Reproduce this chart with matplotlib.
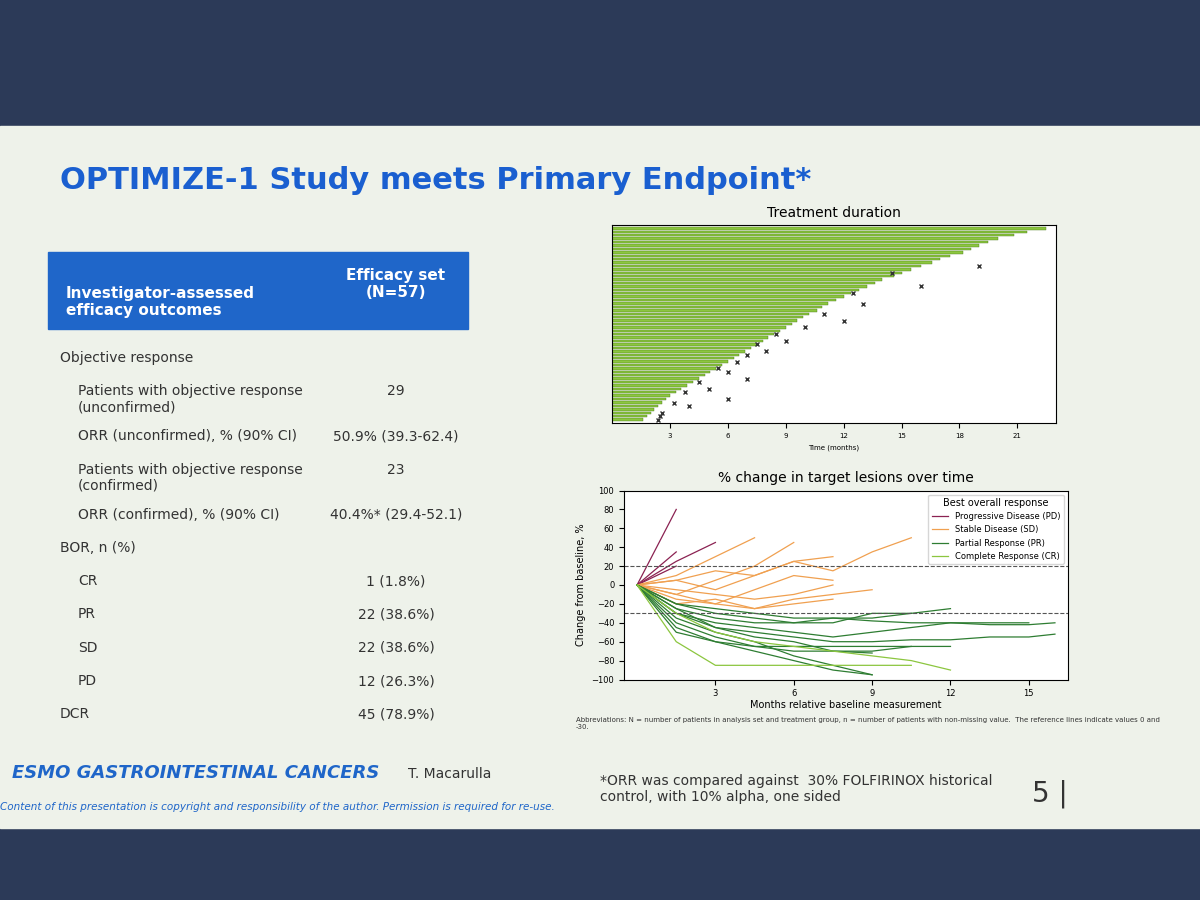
import numpy as np
import matplotlib.pyplot as plt
from matplotlib.patches import Rectangle

# ---- table data
row_labels = ["Objective response", "Patients with objective response\n(unconfirmed)",
              "ORR (unconfirmed), % (90% CI)", "Patients with objective response\n(confirmed)",
              "ORR (confirmed), % (90% CI)", "BOR, n (%)", "CR", "PR", "SD", "PD", "DCR"]
row_values = ["", "29", "50.9% (39.3-62.4)", "23", "40.4%* (29.4-52.1)", "",
              "1 (1.8%)", "22 (38.6%)", "22 (38.6%)", "12 (26.3%)", "45 (78.9%)"]
row_indent = [0, 1, 1, 1, 1, 0, 1, 1, 1, 1, 0]

# ---- swimmer data (months on treatment, per patient)
durations = [22.5, 21.5, 20.8, 20.0, 19.5, 19.0, 18.6, 18.2, 17.5, 17.0, 16.6, 16.0,
             15.5, 15.0, 14.6, 14.0, 13.6, 13.2, 12.8, 12.4, 12.0, 11.6, 11.2, 10.9,
             10.6, 10.2, 9.9, 9.6, 9.3, 9.0, 8.7, 8.4, 8.1, 7.8, 7.5, 7.2, 6.9, 6.6,
             6.3, 6.0, 5.7, 5.4, 5.1, 4.8, 4.5, 4.2, 3.9, 3.6, 3.3, 3.0, 2.8, 2.6,
             2.4, 2.2, 2.0, 1.8, 1.6]
death_times = [None, None, None, None, None, None, None, None, None, None, None, 19.0,
               None, 14.5, None, None, None, 16.0, None, 12.5, None, None, 13.0, None,
               None, 11.0, None, 12.0, None, 10.0, None, 8.5, None, 9.0, 7.5, None, 8.0,
               7.0, None, 6.5, None, 5.5, 6.0, None, 7.0, 4.5, None, 5.0, 3.8, None, 6.0,
               3.2, 4.0, None, 2.6, 2.5, 2.4]

# ---- spider plot data (months, % change)
months = [0, 1.5, 3, 4.5, 6, 7.5, 9, 10.5, 12, 13.5, 15, 16]
spider_pd = [[0, 80], [0, 35], [0, 25, 45], [0, 20]]
spider_sd = [[0, 10, 30, 50], [0, -10, 5, 20, 45], [0, 5, -5, 10, 25, 15, 35, 50],
             [0, -15, -20, -5, 10, 5], [0, -5, -10, -15, -10, 0],
             [0, -10, -20, -25, -15, -10, -5], [0, 5, 15, 10, 25, 30],
             [0, -20, -15, -25, -20, -15]]
spider_pr = [[0, -30, -45, -50, -55, -60, -60, -58, -58, -55, -55, -52],
             [0, -35, -50, -60, -75, -85, -95], [0, -25, -35, -40, -40, -35, -35, -30],
             [0, -40, -55, -65, -65, -65, -65, -65], [0, -30, -40, -45, -50, -55, -50, -45, -40, -40, -40],
             [0, -20, -30, -35, -40, -40, -30, -30, -25], [0, -25, -45, -55, -60, -70, -72],
             [0, -45, -60, -70, -80, -90, -95], [0, -20, -25, -30, -35, -35, -38, -40, -40, -42, -42, -40],
             [0, -50, -60, -65, -70, -70, -70, -65, -65]]
spider_cr = [[0, -60, -85, -85, -85, -85, -85, -85],
             [0, -30, -50, -60, -65, -70, -75, -80, -90]]

fig = plt.figure(figsize=(12, 9), dpi=100)
fig.patch.set_facecolor("#2c3a58")
bg = fig.add_axes([0, 0, 1, 1]); bg.set_axis_off()
bg.set_xlim(0, 1); bg.set_ylim(0, 1)
bg.add_patch(Rectangle((0, 0.08), 1, 0.78, color="#eef2ea"))

fig.text(0.05, 0.79, "OPTIMIZE-1 Study meets Primary Endpoint*", fontsize=22,
         fontweight="bold", color="#1a5fd0")

# table
bg.add_patch(Rectangle((0.04, 0.635), 0.35, 0.085, color="#1f66c9"))
fig.text(0.055, 0.65, "Investigator-assessed\nefficacy outcomes", color="white",
         fontsize=11, fontweight="bold")
fig.text(0.33, 0.67, "Efficacy set\n(N=57)", color="white", fontsize=11,
         fontweight="bold", ha="center")
y = 0.61
for lab, val, ind in zip(row_labels, row_values, row_indent):
    fig.text(0.05 + 0.015 * ind, y, lab, fontsize=10, va="top", color="#333333")
    if val:
        fig.text(0.33, y, val, fontsize=10, va="top", ha="center", color="#333333")
    y -= 0.05 if "\n" in lab else 0.037

# swimmer plot
ax1 = fig.add_axes([0.51, 0.53, 0.37, 0.22])
n = len(durations)
yy = np.arange(n)[::-1]
ax1.barh(yy, durations, height=0.7, color="#8cc63f", edgecolor="#4a7a1a", linewidth=0.3)
for yi, d in zip(yy, death_times):
    if d is not None:
        ax1.plot(d, yi, "x", color="#333333", ms=3)
ax1.set_xticks([3, 6, 9, 12, 15, 18, 21])
ax1.set_yticks([])
ax1.tick_params(labelsize=5)
ax1.set_xlabel("Time (months)", fontsize=5)
ax1.set_title("Treatment duration", fontsize=10)
ax1.set_xlim(0, 23)
ax1.set_ylim(-1, n)

# spider plot
ax2 = fig.add_axes([0.52, 0.245, 0.37, 0.21])
groups = [(spider_pd, "#8b2252", "Progressive Disease (PD)"),
          (spider_sd, "#f0a050", "Stable Disease (SD)"),
          (spider_pr, "#2e7d32", "Partial Response (PR)"),
          (spider_cr, "#8cc63f", "Complete Response (CR)")]
for lines, col, lab in groups:
    for i, vals in enumerate(lines):
        ax2.plot(months[:len(vals)], vals, color=col, lw=0.9,
                 label=lab if i == 0 else None)
ax2.axhline(20, ls="--", color="#555555", lw=0.8)
ax2.axhline(-30, ls="--", color="#555555", lw=0.8)
ax2.set_xlim(-0.5, 16.5)
ax2.set_ylim(-100, 100)
ax2.set_xticks([3, 6, 9, 12, 15])
ax2.set_yticks(range(-100, 101, 20))
ax2.tick_params(labelsize=6)
ax2.set_xlabel("Months relative baseline measurement", fontsize=7, labelpad=1)
ax2.set_ylabel("Change from baseline, %", fontsize=7)
ax2.set_title("% change in target lesions over time", fontsize=10)
ax2.legend(title="Best overall response", fontsize=6, title_fontsize=7,
           loc="upper right", frameon=True)

fig.text(0.48, 0.19, "Abbreviations: N = number of patients in analysis set and treatment group, "
         "n = number of patients with non-missing value.  The reference lines indicate values 0 and\n-30.",
         fontsize=5, color="#333333")
fig.text(0.01, 0.135, "ESMO GASTROINTESTINAL CANCERS", fontsize=13, fontweight="bold",
         style="italic", color="#1f66c9")
fig.text(0.34, 0.135, "T. Macarulla", fontsize=10, color="#333333")
fig.text(0.0, 0.1, "Content of this presentation is copyright and responsibility of the author. "
         "Permission is required for re-use.", fontsize=7.5, style="italic", color="#1f66c9")
fig.text(0.5, 0.11, "*ORR was compared against  30% FOLFIRINOX historical\ncontrol, with 10% alpha, one sided",
         fontsize=10, color="#333333")
fig.text(0.86, 0.11, "5 |", fontsize=20, color="#333333")

fig.savefig("out.png", facecolor=fig.get_facecolor())
